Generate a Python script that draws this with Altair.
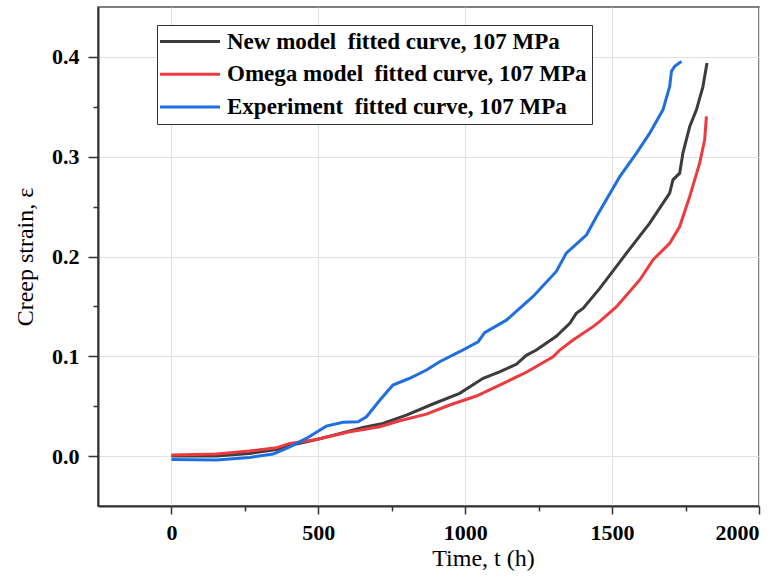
import altair as alt
import pandas as pd

# ---- data ----
series_names = [
    "New model\u00a0 fitted curve, 107 MPa",
    "Omega model\u00a0 fitted curve, 107 MPa",
    "Experiment\u00a0 fitted curve, 107 MPa",
]
series_colors = ["#3c3c3c", "#ee3a3e", "#1f6fe0"]

t_new = [0, 153, 266, 357, 425, 494, 562, 652, 720, 800, 890, 981, 1061, 1117, 1174,
         1208, 1242, 1310, 1356, 1378, 1401, 1458, 1549, 1628, 1696, 1707, 1730, 1741,
         1764, 1787, 1809, 1823]
e_new = [0.000, 0.000, 0.0027, 0.0067, 0.012, 0.0167, 0.0218, 0.0288, 0.0328, 0.0411,
         0.0522, 0.0629, 0.0779, 0.0845, 0.092, 0.101, 0.1063, 0.120, 0.133, 0.143,
         0.148, 0.168, 0.2033, 0.2334, 0.2635, 0.2768, 0.2835, 0.3036, 0.330, 0.347,
         0.370, 0.3938]

t_omega = [0, 153, 266, 357, 403, 494, 607, 709, 777, 868, 947, 1038, 1117, 1208, 1299,
           1322, 1367, 1435, 1458, 1515, 1594, 1639, 1696, 1730, 1764, 1798, 1815, 1821]
e_omega = [0.001, 0.002, 0.005, 0.0083, 0.0127, 0.0167, 0.0244, 0.0294, 0.0354, 0.0421,
           0.0512, 0.0602, 0.0712, 0.084, 0.0996, 0.1063, 0.1163, 0.1297, 0.135, 0.1497,
           0.1765, 0.1966, 0.2133, 0.230, 0.260, 0.2936, 0.317, 0.3403]

t_exp = [0, 153, 266, 346, 403, 459, 527, 584, 635, 664, 709, 754, 811, 868, 913, 981,
         1044, 1066, 1140, 1231, 1310, 1344, 1413, 1447, 1526, 1583, 1628, 1673, 1696,
         1702, 1713, 1736]
e_exp = [-0.0033, -0.004, -0.0013, 0.002, 0.0093, 0.0177, 0.030, 0.0338, 0.0344, 0.0394,
         0.056, 0.0712, 0.078, 0.0863, 0.0946, 0.1046, 0.1146, 0.1237, 0.1362, 0.160,
         0.185, 0.2033, 0.2217, 0.240, 0.280, 0.3036, 0.3236, 0.347, 0.3704, 0.3855,
         0.3905, 0.3955]

x_ticks = [0, 250, 500, 750, 1000, 1250, 1500, 1750, 2000]
y_ticks = [0, 0.05, 0.1, 0.15, 0.2, 0.25, 0.3, 0.35, 0.4]

rows = []
for name, ts, es in zip(series_names, [t_new, t_omega, t_exp], [e_new, e_omega, e_exp]):
    for i, (t, e) in enumerate(zip(ts, es)):
        rows.append({"series": name, "t": t, "e": e, "order": i})
df = pd.DataFrame(rows)

FONT = "Liberation Serif"
y_major = "abs(datum.value*10 - round(datum.value*10)) < 0.001"
x_major = "datum.value % 500 == 0"

chart = alt.Chart(df).mark_line(strokeWidth=3, clip=True).encode(
    x=alt.X("t:Q",
            scale=alt.Scale(domain=[-250, 2000], nice=False, zero=False),
            axis=alt.Axis(
                title="Time, t (h)", values=x_ticks,
                labelExpr=f"{x_major} ? format(datum.value, 'd') : ''",
                tickSize={"condition": {"test": x_major, "value": 8}, "value": 5},
                gridOpacity={"condition": {"test": x_major, "value": 1}, "value": 0},
                labelPadding=8, titlePadding=3, titleX=385, titleAlign="center",
            )),
    y=alt.Y("e:Q",
            scale=alt.Scale(domain=[-0.05, 0.45], nice=False, zero=False),
            axis=alt.Axis(
                title="Creep strain, \u03b5", values=y_ticks,
                labelExpr=f"{y_major} ? format(datum.value, '.1f') : ''",
                tickSize={"condition": {"test": y_major, "value": 10}, "value": 5},
                gridOpacity={"condition": {"test": y_major, "value": 1}, "value": 0},
                labelPadding=9, titlePadding=14,
            )),
    color=alt.Color("series:N",
                    scale=alt.Scale(domain=series_names, range=series_colors),
                    sort=series_names,
                    legend=alt.Legend(
                        title=None, orient="none", legendX=59, legendY=18,
                        direction="vertical", fillColor="white", strokeColor="#333333",
                        padding=5, rowPadding=8.7,
                        symbolType="M-13.5,0H46.5", symbolSize=4, symbolStrokeWidth=3,
                        symbolOffset=0, labelOffset=42,
                        labelFont=FONT, labelFontWeight="bold", labelFontSize=23,
                        labelColor="black", labelLimit=0,
                    )),
    order="order:Q",
).properties(
    width=661, height=499,
    background="white",
    autosize=alt.AutoSizeParams(type="none"),
    padding={"left": 98, "top": 7, "right": 24, "bottom": 71},
).configure_view(
    stroke="#555555", strokeWidth=1.5
).configure_axis(
    domainColor="#333333", domainWidth=2,
    tickColor="#333333", tickWidth=1.5,
    gridColor="#e0e0e0", gridWidth=1,
    labelFont=FONT, labelFontWeight="bold", labelFontSize=22, labelColor="black",
    titleFont=FONT, titleFontWeight="normal", titleFontSize=24, titleColor="black",
)

chart.save("out.html", embed_options={"renderer": "svg", "actions": False})
